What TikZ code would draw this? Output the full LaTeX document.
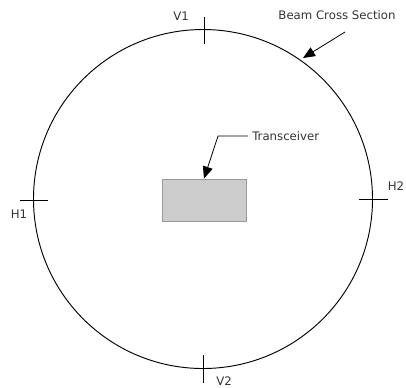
\documentclass[tikz,border=0pt]{standalone}
\usepackage{fontspec}
\setmainfont{DejaVu Sans}
\usetikzlibrary{arrows.meta}
\definecolor{txt}{HTML}{333333}
\definecolor{boxfill}{HTML}{CCCCCC}
\definecolor{boxline}{HTML}{999999}
\begin{document}
\begin{tikzpicture}[x=0.75pt,y=-0.75pt,
  lbl/.style={font=\fontsize{8.8pt}{10pt}\selectfont, text=txt, inner sep=0pt},
  tick/.style={draw=black, line width=0.6pt},
  leader/.style={draw=black, line width=0.6pt, -{Triangle[length=9pt,width=7.5pt]}}]
\useasboundingbox (0,0) rectangle (406,387);
% beam
\node[draw, circle, line width=0.7pt, minimum size=339*0.75pt, inner sep=0pt] (beam) at (203,199) {};
% ticks
\coordinate (v1a) at (204,17); \coordinate (v1b) at (204,44);
\coordinate (v2a) at (203,355); \coordinate (v2b) at (203,383);
\coordinate (h1a) at (20,200); \coordinate (h1b) at (48,200);
\coordinate (h2a) at (359,199); \coordinate (h2b) at (388,199);
\draw[tick] (v1a) -- (v1b);
\draw[tick] (v2a) -- (v2b);
\draw[tick] (h1a) -- (h1b);
\draw[tick] (h2a) -- (h2b);
% labels
\node[lbl] (V1) at (181,16) {V1};
\node[lbl] (V2) at (224,381) {V2};
\node[lbl] (H1) at (19,214) {H1};
\node[lbl] (H2) at (396,186) {H2};
% transceiver
\node[draw=boxline, fill=boxfill, line width=0.6pt, minimum width=84*0.75pt, minimum height=42*0.75pt, inner sep=0pt] (tx) at (204,200) {};
\node[lbl, anchor=west] (txl) at (252,136) {Transceiver};
\coordinate (bend) at (218,136);
\draw[leader] (txl.west) ++(-4,0) -- (bend) -- (tx.north);
% beam label
\node[lbl] (bcs) at (337,15) {Beam Cross Section};
\coordinate (bcsa) at (345,32);
\coordinate (bcsb) at (303,58);
\draw[leader] (bcsa) -- (bcsb);
\end{tikzpicture}
\end{document}
